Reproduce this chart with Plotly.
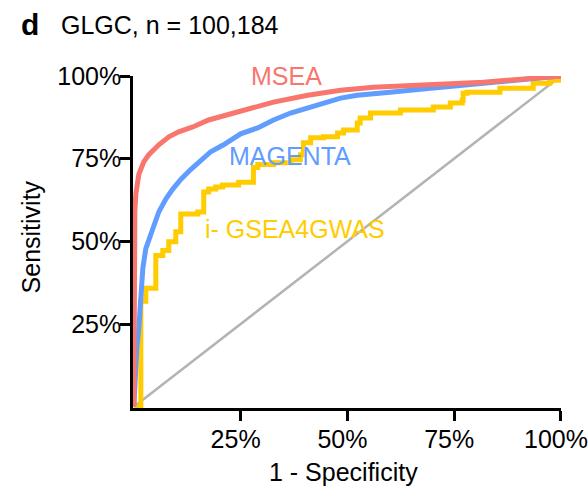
import plotly.graph_objects as go

# ---- data (percent) ----
msea_fpr = [0, 0, 0.23, 0.47, 0.93, 1.17, 2.34, 3.5, 5.84, 8.2, 10.5, 13.8, 17.5, 21.5, 25.5, 32.7, 40.7, 48.4, 56.1, 64.8, 81.8, 100]
msea_tpr = [0, 50.8, 58.9, 64.3, 68.8, 70.3, 74.1, 76.2, 79.2, 81.6, 83.1, 84.6, 86.7, 88.2, 89.7, 92.1, 94.2, 95.7, 96.6, 97.2, 98.1, 100]

magenta_fpr = [0, 0.23, 0.47, 0.70, 1.17, 1.64, 2.10, 2.80, 3.50, 4.44, 5.84, 7.48, 9.11, 10.98, 13.3, 15.7, 18.0, 21.0, 25.0, 29.0, 32.7, 36.7, 40.7, 44.4, 48.4, 52.3, 56.1, 60.0, 67.1, 74.1, 81.8, 90.4, 100]
magenta_tpr = [0, 7.3, 13.3, 17.8, 23.8, 34.3, 41.8, 47.8, 50.8, 53.8, 58.9, 62.8, 65.8, 68.7, 71.7, 74.7, 77.1, 79.2, 82.5, 84.3, 86.7, 88.8, 90.3, 91.8, 93.3, 94.2, 94.8, 95.1, 96.0, 96.9, 97.8, 98.7, 100]

igsea_fpr = [0, 1.64, 1.64, 2.80, 2.80, 5.14, 5.14, 6.78, 6.78, 8.18, 8.18, 9.81, 9.81, 10.98, 10.98, 14.49, 14.95, 16.36, 16.36, 17.52, 19.16, 20.79, 24.53, 27.8, 28.0, 29.0, 32.7, 36.7, 39.0, 39.7, 41.4, 44.4, 47.7, 49.1, 52.3, 53.0, 55.4, 62.4, 70.1, 74.1, 76.9, 77.1, 78.0, 85.7, 93.5, 97.4, 100]
igsea_tpr = [0, 1.35, 31.9, 31.9, 35.8, 35.8, 45.7, 45.7, 47.2, 47.2, 49.9, 49.9, 52.9, 52.9, 58.3, 58.3, 58.9, 58.9, 64.9, 65.8, 66.4, 67.0, 67.9, 67.9, 72.3, 73.2, 73.8, 74.7, 76.2, 79.8, 81.3, 81.6, 82.8, 83.7, 85.8, 87.3, 88.8, 89.7, 90.6, 91.8, 92.7, 94.8, 95.1, 96.3, 97.8, 98.7, 99.3]

diag = [0, 100]
tick_vals = [25, 50, 75, 100]
tick_text = ["25%", "50%", "75%", "100%"]

labels = ["MSEA", "MAGENTA", "i- GSEA4GWAS"]
colors = ["#F8766D", "#619CFF", "#FFCC00"]

FONT = "Liberation Sans, Arial, sans-serif"

fig = go.Figure()
fig.add_trace(go.Scatter(x=diag, y=diag, mode="lines", line=dict(color="#B3B3B3", width=2.5), showlegend=False))
fig.add_trace(go.Scatter(x=igsea_fpr, y=igsea_tpr, mode="lines", line=dict(color=colors[2], width=5, shape="hv"), showlegend=False))
fig.add_trace(go.Scatter(x=magenta_fpr, y=magenta_tpr, mode="lines", line=dict(color=colors[1], width=5), showlegend=False))
fig.add_trace(go.Scatter(x=msea_fpr, y=msea_tpr, mode="lines", line=dict(color=colors[0], width=5), showlegend=False))

axis_common = dict(
    showgrid=False, zeroline=False, showline=True, linecolor="black", linewidth=2.5,
    ticks="outside", ticklen=10, tickwidth=2.5, tickcolor="black",
    tickvals=tick_vals, ticktext=tick_text,
    tickfont=dict(family=FONT, size=25, color="black"),
    ticklabeloverflow="allow", automargin=False,
)

fig.update_layout(
    width=588, height=487,
    margin=dict(l=132.75, r=27, t=75.7, b=78.9, pad=0, autoexpand=False),
    paper_bgcolor="white", plot_bgcolor="white",
    xaxis=dict(range=[-0.2, 100.01], ticklabelshift=-5, ticklabelstandoff=-3, **axis_common),
    yaxis=dict(range=[-0.4, 100], ticklabelstandoff=-6, **axis_common),
    font=dict(family=FONT, color="black"),
)

W0, W1 = 132.75, 561.0
H0, H1 = 408.1, 75.7
def px(x):
    return (x - W0) / (W1 - W0)
def py(y):
    return (H0 - y) / (H0 - H1)

# series labels
label_pos = [(286.7, 76), (289.5, 156), (294.7, 229)]
for text, col, (lx, ly) in zip(labels, colors, label_pos):
    fig.add_annotation(x=px(lx), y=py(ly), xref="paper", yref="paper", text=text, showarrow=False,
                       xanchor="center", yanchor="middle", font=dict(family=FONT, size=25, color=col))

# title
fig.add_annotation(x=px(18.5), y=py(24), xref="paper", yref="paper", text="<b>d</b>", showarrow=False,
                   xanchor="left", yanchor="middle", font=dict(family=FONT, size=30, color="black"))
fig.add_annotation(x=px(59), y=py(25), xref="paper", yref="paper", text="GLGC, n = 100,184", showarrow=False,
                   xanchor="left", yanchor="middle", font=dict(family=FONT, size=25, color="black"))

# axis titles
fig.add_annotation(x=px(343.5), y=py(472), xref="paper", yref="paper", text="1 - Specificity", showarrow=False,
                   xanchor="center", yanchor="middle", font=dict(family=FONT, size=25, color="black"))
fig.add_annotation(x=px(31), y=py(237), xref="paper", yref="paper", text="Sensitivity", showarrow=False,
                   textangle=-90, xanchor="center", yanchor="middle", font=dict(family=FONT, size=25, color="black"))

fig.write_html("out.html")
